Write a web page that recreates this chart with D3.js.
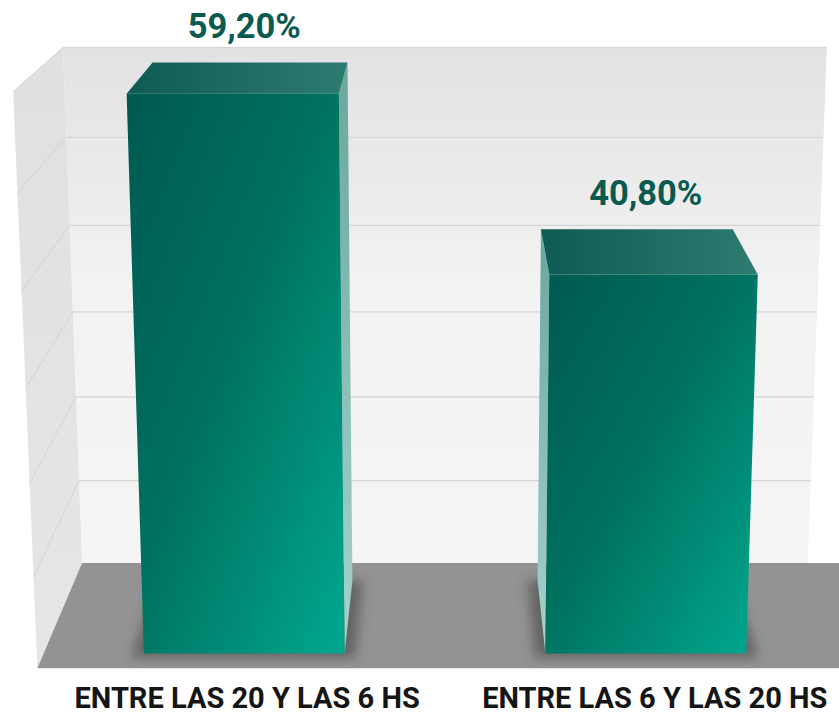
<!DOCTYPE html>
<html>
<head>
<meta charset="utf-8">
<script src="https://cdn.jsdelivr.net/npm/d3@7"></script>
<style>
  html, body { margin: 0; padding: 0; background: #ffffff; }
  svg { display: block; }
</style>
</head>
<body>
<svg id="chart" width="839" height="715"></svg>
<script>
// datos del gráfico
const categories = ['ENTRE LAS 20 Y LAS 6 HS', 'ENTRE LAS 6 Y LAS 20 HS'];
const values = [59.2, 40.8];
const yTicks = [0, 10, 20, 30, 40, 50, 60];

const width = 839, height = 715;

// cámara en perspectiva (mirando un poco hacia abajo)
const cam = { H: 1, L: 2.534, tilt: 0.25, F: 2516, cx: 445, cy: 337 };
const phi = Math.atan(cam.tilt);
const sinP = Math.sin(phi), cosP = Math.cos(phi);

function project(X, Y, Z) {
    const v = Y - cam.H, w = Z + cam.L;
    const yc = v * cosP + w * sinP;
    const zc = -v * sinP + w * cosP;
    return [cam.cx + cam.F * X / zc, cam.cy - cam.F * yc / zc];
}

// profundidad del mundo
const depth = 0.343;          // fondo de la pared posterior
const barFront = 0.043, barBack = 0.28;
const xMin = -0.4376, xMax = 0.4376;

const x = d3.scaleBand().domain(categories).range([xMin, xMax])
    .paddingInner(0.5).paddingOuter(0.25);
const y = d3.scaleLinear().domain([0, 60]).range([0, 0.6224]);

const locale = d3.formatLocale({ decimal: ',', thousands: '.', grouping: [3], currency: ['', '€'] });
const fmt = locale.format('.2f');

const svg = d3.select('#chart');
const defs = svg.append('defs');

function grad(id, x1, y1, x2, y2, stops) {
    const g = defs.append('linearGradient').attr('id', id)
        .attr('x1', x1).attr('y1', y1).attr('x2', x2).attr('y2', y2);
    stops.forEach(s => g.append('stop').attr('offset', s[0]).attr('stop-color', s[1]));
}
grad('backWall', 0, 0, 0, 1, [[0, '#e2e2e2'], [0.45, '#f2f2f2'], [1, '#f5f5f5']]);
grad('sideWall', 0, 0, 0, 1, [[0, '#e0e0e0'], [1, '#e6e6e6']]);
grad('frontFace', 0, 0, 1, 1, [[0, '#005a51'], [0.45, '#00705f'], [1, '#00a88f']]);
grad('topFace', 0, 0, 1, 0, [[0, '#0d5b52'], [1, '#2e7b71']]);
grad('sideFace', 0, 0, 0, 1, [[0, '#6aa79e'], [1, '#a6d3cb']]);

const blur = defs.append('filter').attr('id', 'shadow')
    .attr('x', '-30%').attr('y', '-30%').attr('width', '160%').attr('height', '160%');
blur.append('feGaussianBlur').attr('stdDeviation', 6);

const line = d3.line();
const poly = pts => line(pts.map(p => project(p[0], p[1], p[2]))) + 'Z';

const yMax = y(60);

// pared posterior
svg.append('path')
    .attr('d', poly([[xMin, 0, depth], [xMax, 0, depth], [xMax, yMax, depth], [xMin, yMax, depth]]))
    .attr('fill', 'url(#backWall)');

// pared lateral
svg.append('path')
    .attr('d', poly([[xMin, 0, 0], [xMin, 0, depth], [xMin, yMax, depth], [xMin, yMax, 0]]))
    .attr('fill', 'url(#sideWall)');

// líneas de cuadrícula
const grid = svg.append('g').attr('fill', 'none').attr('stroke', '#d6d6d6').attr('stroke-width', 1.2);
yTicks.slice(1).forEach(t => {
    grid.append('path').attr('d', line([project(xMin, y(t), depth), project(xMax, y(t), depth)]));
    grid.append('path').attr('stroke', '#d8d8d8')
        .attr('d', line([project(xMin, y(t), depth), project(xMin, y(t), 0)]));
});

// piso (se extiende más allá del borde derecho)
svg.append('path')
    .attr('d', poly([[xMin, 0, 0], [xMax + 0.2, 0, 0], [xMax + 0.2, 0, depth], [xMin, 0, depth]]))
    .attr('fill', '#939393');
svg.append('path')
    .attr('d', line([project(xMax, 0, depth), project(xMax + 0.2, 0, depth), project(xMax + 0.2, yMax, depth), project(xMax, yMax, depth)]) + 'Z')
    .attr('fill', '#ffffff');

// sombras de las barras
const pad = 0.012;
svg.append('g').selectAll('path').data(categories).join('path')
    .attr('d', c => poly([
        [x(c) - pad, 0, barFront - pad], [x(c) + x.bandwidth() + pad, 0, barFront - pad],
        [x(c) + x.bandwidth() + pad, 0, barBack], [x(c) - pad, 0, barBack]]))
    .attr('fill', '#3e3e3e').attr('opacity', 0.55).attr('filter', 'url(#shadow)');

// barras
const bars = svg.append('g').selectAll('g').data(categories).join('g');

bars.append('path')
    .attr('d', (c, i) => {
        const x0 = x(c), x1 = x0 + x.bandwidth();
        const xs = (x1 < 0) ? x1 : x0;   // cara lateral visible (hacia el centro)
        return poly([[xs, 0, barFront], [xs, 0, barBack], [xs, y(values[i]), barBack], [xs, y(values[i]), barFront]]);
    })
    .attr('fill', 'url(#sideFace)');

bars.append('path')
    .attr('d', (c, i) => {
        const x0 = x(c), x1 = x0 + x.bandwidth(), h = y(values[i]);
        return poly([[x0, h, barFront], [x1, h, barFront], [x1, h, barBack], [x0, h, barBack]]);
    })
    .attr('fill', 'url(#topFace)');

bars.append('path')
    .attr('d', (c, i) => {
        const x0 = x(c), x1 = x0 + x.bandwidth(), h = y(values[i]);
        return poly([[x0, 0, barFront], [x1, 0, barFront], [x1, h, barFront], [x0, h, barFront]]);
    })
    .attr('fill', 'url(#frontFace)');

// etiquetas de valor
svg.append('g').selectAll('text').data(categories).join('text')
    .attr('x', c => project(x(c) + x.bandwidth() / 2, 0, barFront)[0])
    .attr('y', (c, i) => project(x(c) + x.bandwidth() / 2, y(values[i]), barBack)[1] - 24)
    .attr('text-anchor', 'middle')
    .attr('font-family', 'Roboto, sans-serif')
    .attr('font-weight', 700)
    .attr('font-size', 34.5)
    .attr('fill', '#0b5a50')
    .text((c, i) => fmt(values[i]) + '%');

// etiquetas de categoría
svg.append('g').selectAll('text').data(categories).join('text')
    .attr('x', c => project(x(c) + x.bandwidth() / 2, 0, 0)[0] + 6)
    .attr('y', 708)
    .attr('text-anchor', 'middle')
    .attr('font-family', 'Roboto, sans-serif')
    .attr('font-weight', 700)
    .attr('font-size', 29)
    .attr('fill', '#151515')
    .text(c => c);
</script>
</body>
</html>
